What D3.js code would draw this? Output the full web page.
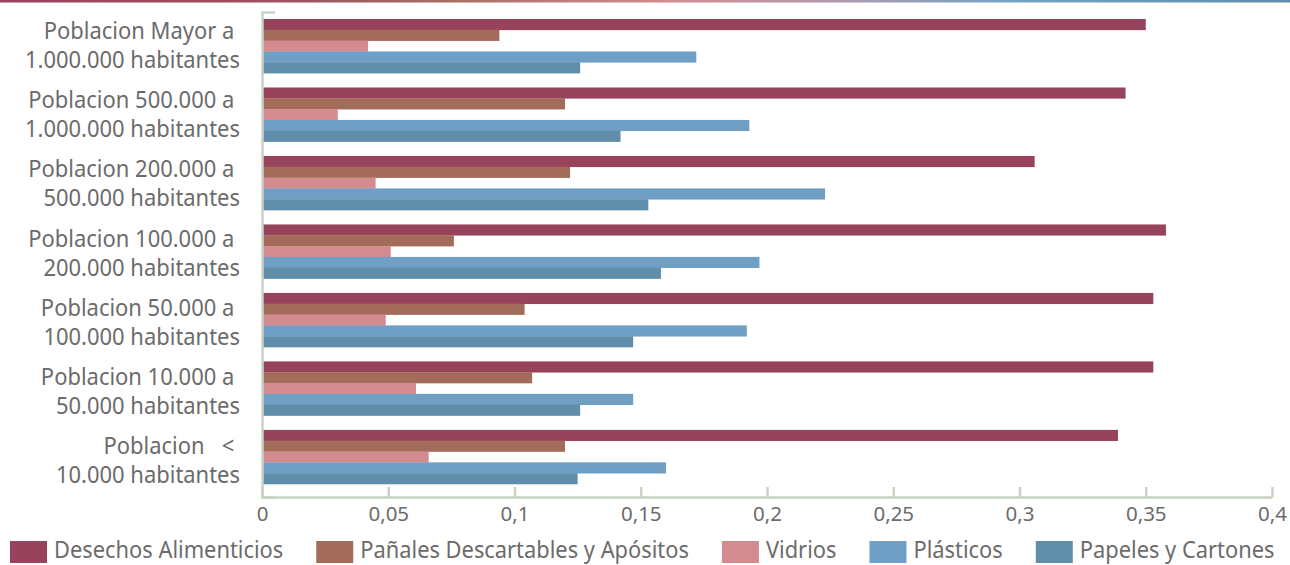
<!DOCTYPE html>
<html>
<head>
<meta charset="utf-8">
<script src="https://cdn.jsdelivr.net/npm/d3@7"></script>
<style>
  html, body { margin: 0; padding: 0; background: #ffffff; }
  svg { display: block; }
  .cat text, .xt text { fill: #6b6b6b; }
</style>
</head>
<body>
<svg id="chart" width="1290" height="565"></svg>
<script>
// Composition of household waste by town size (share of total)
const categories = [
  ["Poblacion Mayor a ", "1.000.000 habitantes"],
  ["Poblacion 500.000 a ", "1.000.000 habitantes"],
  ["Poblacion 200.000 a ", "500.000 habitantes"],
  ["Poblacion 100.000 a ", "200.000 habitantes"],
  ["Poblacion 50.000 a ", "100.000 habitantes"],
  ["Poblacion 10.000 a ", "50.000 habitantes"],
  ["Poblacion   < ", "10.000 habitantes"]
];
const seriesNames = [
  "Desechos Alimenticios",
  "Pañales Descartables y Apósitos",
  "Vidrios",
  "Plásticos",
  "Papeles y Cartones"
];
const desechosAlimenticios = [0.350, 0.342, 0.306, 0.358, 0.353, 0.353, 0.339];
const panales              = [0.094, 0.120, 0.122, 0.076, 0.104, 0.107, 0.120];
const vidrios              = [0.042, 0.030, 0.045, 0.051, 0.049, 0.061, 0.066];
const plasticos            = [0.172, 0.193, 0.223, 0.197, 0.192, 0.147, 0.160];
const papeles              = [0.126, 0.142, 0.153, 0.158, 0.147, 0.126, 0.125];
const xTicks = [0, 0.05, 0.1, 0.15, 0.2, 0.25, 0.3, 0.35, 0.4];
const seriesColors = ["#98435c", "#a36b5a", "#d48b8f", "#6f9fc4", "#608daa"];

const seriesValues = [desechosAlimenticios, panales, vidrios, plasticos, papeles];

const svg = d3.select("#chart");
const W = 1290;
const axisColor = "#c8d3c4";
const textFont = "'Noto Sans', 'DejaVu Sans', sans-serif";
// the typeface used here is set slightly condensed
const catSquash = 0.955;
const legendSquash = 0.93;

// decorative gradient rule across the top
const defs = svg.append("defs");
const grad = defs.append("linearGradient").attr("id", "topRule")
  .attr("x1", "0%").attr("x2", "100%").attr("y1", "0%").attr("y2", "0%");
[["0%", "#98435c"], ["22%", "#9c5060"], ["35%", "#a86f62"], ["52%", "#d48b92"],
 ["64%", "#b499ab"], ["78%", "#74a3c7"], ["100%", "#5f8ca8"]]
  .forEach(([o, c]) => grad.append("stop").attr("offset", o).attr("stop-color", c));
svg.append("rect").attr("x", 0).attr("y", 0).attr("width", W).attr("height", 2.5)
  .attr("fill", "url(#topRule)");

// scales
const x = d3.scaleLinear().domain([0, 0.4]).range([262, 1272]);
const idx = d3.range(categories.length);
const labelBand = d3.scaleBand().domain(idx).range([12, 497]);
const barBand = d3.scaleBand().domain(idx).range([19, 484]).paddingInner(0.21).paddingOuter(0);
const inner = d3.scaleBand().domain(d3.range(seriesNames.length)).range([0, barBand.bandwidth()]);

// bars
const groups = svg.append("g").selectAll("g")
  .data(idx).join("g")
  .attr("transform", i => `translate(0,${barBand(i)})`);
groups.selectAll("rect")
  .data(i => seriesValues.map((vals, s) => ({ s, v: vals[i] })))
  .join("rect")
  .attr("x", x(0))
  .attr("y", d => inner(d.s))
  .attr("width", d => x(d.v) - x(0))
  .attr("height", inner.bandwidth() + 0.3)
  .attr("fill", d => seriesColors[d.s]);

// y axis (line with a short cap at the top) and two-line category labels
const yAxis = svg.append("g").attr("class", "cat")
  .attr("transform", `translate(${x(0)},0)`)
  .call(d3.axisLeft(labelBand).tickSize(0).tickSizeOuter(-13).tickFormat(() => ""));
yAxis.select(".domain").attr("stroke", axisColor).attr("stroke-width", 2.5);
yAxis.selectAll(".tick text").remove();
yAxis.selectAll(".tick").append("g")
  .attr("transform", `translate(-22,0) scale(${catSquash},1)`)
  .append("text")
  .attr("text-anchor", "end")
  .style("font-family", textFont)
  .style("font-size", "23px")
  .style("white-space", "pre")
  .selectAll("tspan")
  .data(i => categories[i])
  .join("tspan")
  .attr("x", 0)
  .attr("y", (d, k) => k === 0 ? -8 : 21)
  .text(d => d);

// x axis with inward ticks
const xAxis = svg.append("g").attr("class", "xt")
  .attr("transform", "translate(0,497)")
  .call(d3.axisBottom(x).tickValues(xTicks).tickSize(-10).tickSizeOuter(0)
    .tickFormat(d => d3.format("")(d).replace(".", ",")));
xAxis.select(".domain").attr("stroke", axisColor).attr("stroke-width", 2.5);
xAxis.selectAll(".tick line").attr("stroke", axisColor).attr("stroke-width", 2.5);
xAxis.selectAll(".tick text")
  .attr("y", 24).attr("dy", 0)
  .style("font-family", textFont)
  .style("font-size", "20.5px");

// legend along the bottom
const legend = svg.append("g").attr("transform", "translate(10,541)");
let lx = 0;
seriesNames.forEach((name, s) => {
  const item = legend.append("g").attr("transform", `translate(${lx},0)`);
  item.append("rect").attr("width", 37).attr("height", 22).attr("fill", seriesColors[s]);
  const t = item.append("g")
    .attr("transform", `translate(44,16.5) scale(${legendSquash},1)`)
    .append("text")
    .style("font-family", textFont)
    .style("font-size", "23.5px")
    .style("fill", "#6b6b6b")
    .text(name);
  lx += 44 + t.node().getComputedTextLength() * legendSquash + 33;
});
</script>
</body>
</html>
